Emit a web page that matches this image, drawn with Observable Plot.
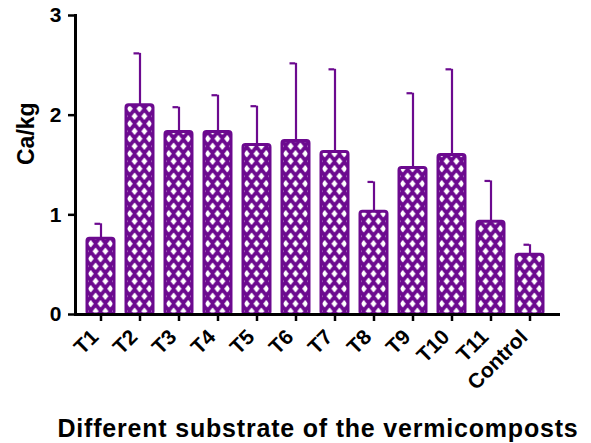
<!DOCTYPE html>
<html>
<head>
<meta charset="utf-8">
<script src="https://cdn.jsdelivr.net/npm/d3@7"></script>
<script src="https://cdn.jsdelivr.net/npm/@observablehq/plot@0.6"></script>
<style>
  html, body { margin: 0; padding: 0; background: white; }
</style>
</head>
<body>
<div id="chart"></div>
<script>
const categories = ["T1", "T2", "T3", "T4", "T5", "T6", "T7", "T8", "T9", "T10", "T11", "Control"];
const means  = [0.76, 2.10, 1.83, 1.83, 1.70, 1.74, 1.63, 1.03, 1.47, 1.60, 0.93, 0.60];
const errors = [0.15, 0.52, 0.25, 0.37, 0.39, 0.78, 0.83, 0.30, 0.75, 0.86, 0.41, 0.10];
const yTicks = [0, 1, 2, 3];
const yLabel = "Ca/kg";
const xLabel = "Different substrate of the vermicomposts";

const purple = "#6c0a8f";
const data = categories.map((c, i) => ({cat: c, mean: means[i], upper: means[i] + errors[i]}));

const chart = Plot.plot({
  width: 591,
  height: 443,
  marginLeft: 75,
  marginRight: 31,
  marginTop: 15,
  marginBottom: 129,
  style: {fontFamily: "'Liberation Sans', Arial, sans-serif", fontWeight: "bold", background: "white", color: "black"},
  x: {domain: categories, paddingInner: 0.3, paddingOuter: 0.311, align: 0.43},
  y: {domain: [0, 3]},
  marks: [
    Plot.ruleX(data, {x: "cat", y1: "mean", y2: "upper", stroke: purple, strokeWidth: 2.2}),
    Plot.tickY(data, {x: "cat", y: "upper", stroke: purple, strokeWidth: 2.2, insetLeft: 7.5, insetRight: 13.8}),
    Plot.barY(data, {x: "cat", y: "mean", fill: "url(#hatch)", stroke: purple, strokeWidth: 3, rx: 2.5}),
    Plot.axisY({ticks: yTicks, tickSize: 7, tickPadding: 7, fontSize: 21, stroke: "black", strokeWidth: 2.5, label: null, tickFormat: d => String(d)}),
    Plot.axisX({tickSize: 7, stroke: "black", strokeWidth: 2.5, label: null, tickFormat: () => ""}),
    Plot.axisX({tickSize: 0, tickPadding: 19, tickRotate: -45, fontSize: 21, dx: -6, label: null}),
    Plot.frame({anchor: "left", stroke: "black", strokeWidth: 3}),
    Plot.ruleY([0], {stroke: "black", strokeWidth: 3}),
    Plot.text([xLabel], {text: d => d, frameAnchor: "bottom", dy: 122, fontSize: 25, fill: "black"}),
    Plot.text([yLabel], {text: d => d, frameAnchor: "left", dx: -49, rotate: -90, fontSize: 23, fill: "black"})
  ]
});

// hatch pattern (white diamonds on purple), aligned with band centers
const xs = chart.scale("x");
const step = xs.step;
const pw = step / 4;
const ph = 15;
const svg = d3.select(chart);
const defs = svg.insert("defs", ":first-child");
const pat = defs.append("pattern")
  .attr("id", "hatch")
  .attr("patternUnits", "userSpaceOnUse")
  .attr("width", pw)
  .attr("height", ph);
pat.append("rect").attr("width", pw).attr("height", ph).attr("fill", purple);
const hw = 3.0, hh = 3.8;
function diamond(cx, cy) {
  pat.append("polygon")
    .attr("points", `${cx - hw},${cy} ${cx},${cy - hh} ${cx + hw},${cy} ${cx},${cy + hh}`)
    .attr("fill", "white");
}
diamond(pw / 2, ph / 4);
diamond(0, ph * 3 / 4);
diamond(pw, ph * 3 / 4);
diamond(pw / 2, ph / 4 + ph);
diamond(0, -ph / 4);
diamond(pw, -ph / 4);
const bandCenter = xs.apply(categories[0]) + xs.bandwidth / 2;
pat.attr("x", ((bandCenter - pw / 2) % pw + pw) % pw);

// slight letter spacing on the axis title to match the reference width
svg.selectAll("text").filter(function () { return this.textContent === xLabel; })
  .style("letter-spacing", "0.8px");

document.getElementById("chart").appendChild(chart);
</script>
</body>
</html>
